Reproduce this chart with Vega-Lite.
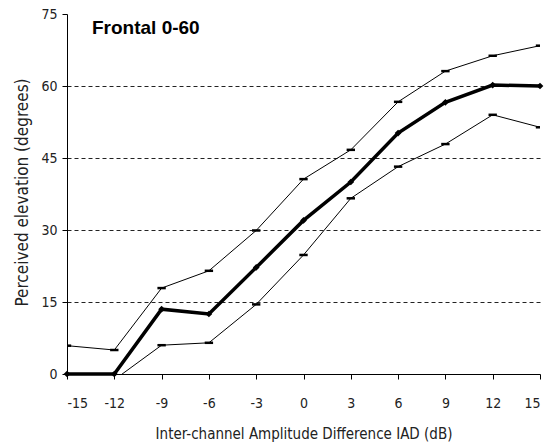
{
  "$schema": "https://vega.github.io/schema/vega-lite/v6.json",
  "width": 473,
  "height": 360,
  "autosize": {"type": "none"},
  "padding": {"left": 67, "top": 14, "right": 16, "bottom": 72},
  "background": "white",
  "title": {
    "text": "Frontal 0-60",
    "anchor": "start",
    "frame": "group",
    "font": "Liberation Sans",
    "fontSize": 19,
    "fontWeight": "bold",
    "color": "black",
    "baseline": "top",
    "offset": 0,
    "dx": 25,
    "dy": 31
  },
  "data": {
    "values": [
      {"iad": -15, "series": "mean", "elev": 0},
      {"iad": -12, "series": "mean", "elev": 0},
      {"iad": -9, "series": "mean", "elev": 13.5},
      {"iad": -6, "series": "mean", "elev": 12.5},
      {"iad": -3, "series": "mean", "elev": 22.2},
      {"iad": 0, "series": "mean", "elev": 32},
      {"iad": 3, "series": "mean", "elev": 40},
      {"iad": 6, "series": "mean", "elev": 50.2},
      {"iad": 9, "series": "mean", "elev": 56.6},
      {"iad": 12, "series": "mean", "elev": 60.2},
      {"iad": 15, "series": "mean", "elev": 60},
      {"iad": -15, "series": "upper", "elev": 5.9},
      {"iad": -12, "series": "upper", "elev": 5.0},
      {"iad": -9, "series": "upper", "elev": 17.9},
      {"iad": -6, "series": "upper", "elev": 21.5},
      {"iad": -3, "series": "upper", "elev": 29.9},
      {"iad": 0, "series": "upper", "elev": 40.6},
      {"iad": 3, "series": "upper", "elev": 46.7},
      {"iad": 6, "series": "upper", "elev": 56.7},
      {"iad": 9, "series": "upper", "elev": 63.1},
      {"iad": 12, "series": "upper", "elev": 66.3},
      {"iad": 15, "series": "upper", "elev": 68.4},
      {"iad": -12, "series": "lower", "elev": -1.2},
      {"iad": -9, "series": "lower", "elev": 6.0},
      {"iad": -6, "series": "lower", "elev": 6.5},
      {"iad": -3, "series": "lower", "elev": 14.5},
      {"iad": 0, "series": "lower", "elev": 24.8},
      {"iad": 3, "series": "lower", "elev": 36.6},
      {"iad": 6, "series": "lower", "elev": 43.2},
      {"iad": 9, "series": "lower", "elev": 47.9},
      {"iad": 12, "series": "lower", "elev": 54},
      {"iad": 15, "series": "lower", "elev": 51.4}
    ]
  },
  "encoding": {
    "x": {
      "field": "iad",
      "type": "quantitative",
      "scale": {"domain": [-15, 15], "nice": false, "zero": false},
      "axis": {
        "title": "Inter-channel Amplitude Difference IAD (dB)",
        "values": [-15, -12, -9, -6, -3, 0, 3, 6, 9, 12, 15],
        "labelExpr": "toString(datum.value)",
        "grid": false,
        "domainColor": "black",
        "tickColor": "black",
        "tickSize": 5,
        "labelPadding": 17,
        "labelFont": "DejaVu Sans Condensed, Liberation Sans",
        "labelFontSize": 14,
        "labelColor": "#222",
        "titleFont": "DejaVu Sans Condensed, Liberation Sans",
        "titleFontSize": 15,
        "titleFontWeight": "normal",
        "titleColor": "#222",
        "titleY": 64,
        "titleBaseline": "alphabetic"
      }
    },
    "y": {
      "field": "elev",
      "type": "quantitative",
      "scale": {"domain": [0, 75], "nice": false},
      "axis": {
        "title": "Perceived elevation (degrees)",
        "values": [0, 15, 30, 45, 60, 75],
        "grid": true,
        "gridColor": "#222",
        "gridDash": [4, 3],
        "gridWidth": 1,
        "gridOpacity": {"condition": {"test": "datum.value == 0 || datum.value == 75", "value": 0}, "value": 1},
        "domainColor": "black",
        "tickColor": "black",
        "tickSize": 5,
        "labelPadding": 5,
        "labelFont": "DejaVu Sans Condensed, Liberation Sans",
        "labelFontSize": 14,
        "labelColor": "#222",
        "titleFont": "DejaVu Sans Condensed, Liberation Sans",
        "titleFontSize": 17,
        "titleFontWeight": "normal",
        "titleColor": "#222",
        "titleX": -40,
        "titleY": 178,
        "titleBaseline": "alphabetic"
      }
    }
  },
  "layer": [
    {
      "transform": [{"filter": "datum.series != 'mean'"}],
      "mark": {"type": "line", "color": "black", "strokeWidth": 1, "clip": true},
      "encoding": {"detail": {"field": "series"}}
    },
    {
      "transform": [{"filter": "datum.series != 'mean'"}],
      "mark": {"type": "point", "shape": "stroke", "size": 70, "strokeWidth": 2.5, "color": "black", "clip": true, "opacity": 1}
    },
    {
      "transform": [{"filter": "datum.series == 'mean'"}],
      "mark": {"type": "line", "color": "black", "strokeWidth": 3.5, "clip": false}
    },
    {
      "transform": [{"filter": "datum.series == 'mean'"}],
      "mark": {"type": "point", "shape": "diamond", "filled": true, "size": 45, "color": "black", "opacity": 1}
    }
  ],
  "config": {"view": {"stroke": null}}
}
